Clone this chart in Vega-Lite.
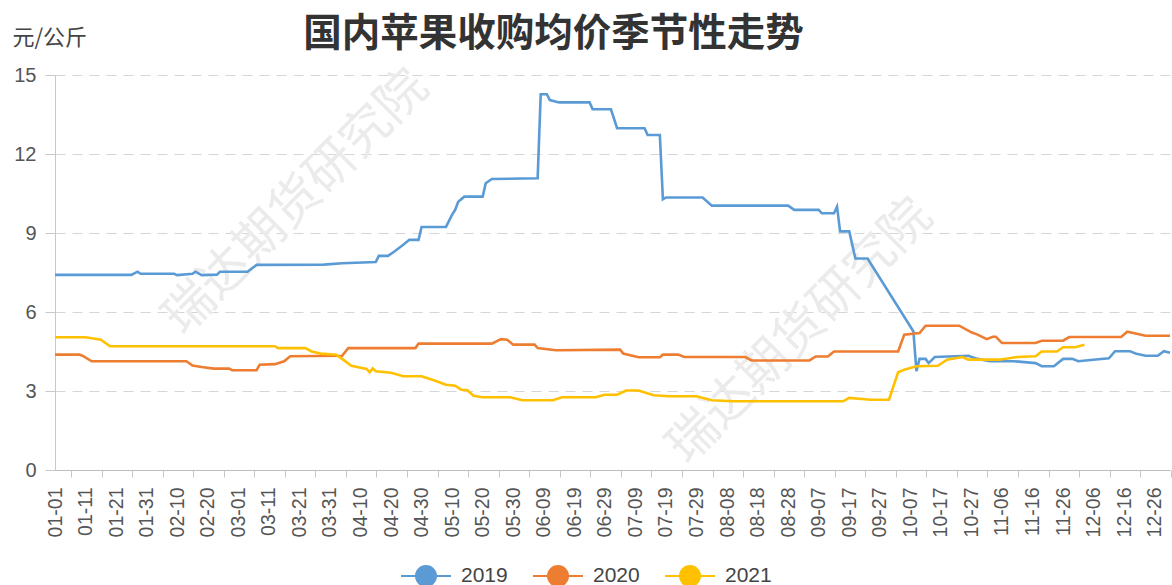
{
  "$schema": "https://vega.github.io/schema/vega-lite/v6.json",
  "width": 1115,
  "height": 395,
  "autosize": {"type": "none"},
  "padding": {"left": 55, "top": 75, "right": 2, "bottom": 115},
  "background": "white",
  "title": {
    "text": "国内苹果收购均价季节性走势",
    "font": "Noto Sans CJK SC",
    "fontSize": 38.5,
    "fontWeight": "bold",
    "color": "#333333",
    "anchor": "middle",
    "frame": "group",
    "dx": -59,
    "offset": -28
  },
  "config": {
    "view": {"stroke": null},
    "axis": {"labelFont": "Liberation Sans", "labelColor": "#555555", "domainColor": "#c8c8c8", "tickColor": "#c8c8c8", "labelOverlap": false, "labelSeparation": 0}
  },
  "layer": [
    {
      "data": {"values": [
        {"date": "2019-03-20", "price": 10.15, "text": "瑞达期货研究院"},
        {"date": "2019-09-01", "price": 5.25, "text": "瑞达期货研究院"}
      ]},
      "mark": {"type": "text", "angle": 315, "fontSize": 50, "font": "Noto Sans CJK SC", "color": "#ebebeb", "align": "center", "baseline": "middle"},
      "encoding": {
        "x": {"field": "date", "type": "temporal", "timeUnit": "utcmonthdate"},
        "y": {"field": "price", "type": "quantitative"},
        "text": {"field": "text"}
      }
    },
    {
      "data": {"values": [
        {"date": "2019-01-01", "year": "2019", "price": 7.41},
        {"date": "2019-01-26", "year": "2019", "price": 7.41},
        {"date": "2019-01-28", "year": "2019", "price": 7.53},
        {"date": "2019-01-29", "year": "2019", "price": 7.45},
        {"date": "2019-02-09", "year": "2019", "price": 7.45},
        {"date": "2019-02-10", "year": "2019", "price": 7.40},
        {"date": "2019-02-15", "year": "2019", "price": 7.45},
        {"date": "2019-02-16", "year": "2019", "price": 7.53},
        {"date": "2019-02-18", "year": "2019", "price": 7.40},
        {"date": "2019-02-23", "year": "2019", "price": 7.42},
        {"date": "2019-02-24", "year": "2019", "price": 7.53},
        {"date": "2019-03-04", "year": "2019", "price": 7.53},
        {"date": "2019-03-07", "year": "2019", "price": 7.79},
        {"date": "2019-03-29", "year": "2019", "price": 7.80},
        {"date": "2019-04-04", "year": "2019", "price": 7.85},
        {"date": "2019-04-15", "year": "2019", "price": 7.90},
        {"date": "2019-04-16", "year": "2019", "price": 8.13},
        {"date": "2019-04-19", "year": "2019", "price": 8.13},
        {"date": "2019-04-21", "year": "2019", "price": 8.29},
        {"date": "2019-04-24", "year": "2019", "price": 8.55},
        {"date": "2019-04-26", "year": "2019", "price": 8.74},
        {"date": "2019-04-29", "year": "2019", "price": 8.74},
        {"date": "2019-04-30", "year": "2019", "price": 9.23},
        {"date": "2019-05-08", "year": "2019", "price": 9.23},
        {"date": "2019-05-10", "year": "2019", "price": 9.70},
        {"date": "2019-05-11", "year": "2019", "price": 9.88},
        {"date": "2019-05-12", "year": "2019", "price": 10.19},
        {"date": "2019-05-14", "year": "2019", "price": 10.38},
        {"date": "2019-05-20", "year": "2019", "price": 10.38},
        {"date": "2019-05-21", "year": "2019", "price": 10.89},
        {"date": "2019-05-23", "year": "2019", "price": 11.05},
        {"date": "2019-06-07", "year": "2019", "price": 11.08},
        {"date": "2019-06-08", "year": "2019", "price": 14.27},
        {"date": "2019-06-10", "year": "2019", "price": 14.27},
        {"date": "2019-06-11", "year": "2019", "price": 14.05},
        {"date": "2019-06-14", "year": "2019", "price": 13.96},
        {"date": "2019-06-24", "year": "2019", "price": 13.96},
        {"date": "2019-06-25", "year": "2019", "price": 13.70},
        {"date": "2019-07-01", "year": "2019", "price": 13.70},
        {"date": "2019-07-03", "year": "2019", "price": 12.98},
        {"date": "2019-07-12", "year": "2019", "price": 12.98},
        {"date": "2019-07-13", "year": "2019", "price": 12.72},
        {"date": "2019-07-17", "year": "2019", "price": 12.72},
        {"date": "2019-07-18", "year": "2019", "price": 10.28},
        {"date": "2019-07-19", "year": "2019", "price": 10.35},
        {"date": "2019-07-31", "year": "2019", "price": 10.35},
        {"date": "2019-08-03", "year": "2019", "price": 10.04},
        {"date": "2019-08-28", "year": "2019", "price": 10.04},
        {"date": "2019-08-30", "year": "2019", "price": 9.88},
        {"date": "2019-09-07", "year": "2019", "price": 9.88},
        {"date": "2019-09-08", "year": "2019", "price": 9.75},
        {"date": "2019-09-12", "year": "2019", "price": 9.75},
        {"date": "2019-09-13", "year": "2019", "price": 10.0},
        {"date": "2019-09-14", "year": "2019", "price": 9.06},
        {"date": "2019-09-17", "year": "2019", "price": 9.06},
        {"date": "2019-09-19", "year": "2019", "price": 8.03},
        {"date": "2019-09-23", "year": "2019", "price": 8.03},
        {"date": "2019-10-07", "year": "2019", "price": 5.45},
        {"date": "2019-10-08", "year": "2019", "price": 5.26},
        {"date": "2019-10-09", "year": "2019", "price": 3.75},
        {"date": "2019-10-10", "year": "2019", "price": 4.22},
        {"date": "2019-10-12", "year": "2019", "price": 4.22},
        {"date": "2019-10-13", "year": "2019", "price": 4.06},
        {"date": "2019-10-15", "year": "2019", "price": 4.29},
        {"date": "2019-10-26", "year": "2019", "price": 4.34},
        {"date": "2019-10-29", "year": "2019", "price": 4.22},
        {"date": "2019-11-02", "year": "2019", "price": 4.13},
        {"date": "2019-11-10", "year": "2019", "price": 4.13},
        {"date": "2019-11-17", "year": "2019", "price": 4.06},
        {"date": "2019-11-19", "year": "2019", "price": 3.94},
        {"date": "2019-11-23", "year": "2019", "price": 3.94},
        {"date": "2019-11-26", "year": "2019", "price": 4.22},
        {"date": "2019-11-29", "year": "2019", "price": 4.22},
        {"date": "2019-12-01", "year": "2019", "price": 4.13},
        {"date": "2019-12-05", "year": "2019", "price": 4.18},
        {"date": "2019-12-11", "year": "2019", "price": 4.24},
        {"date": "2019-12-13", "year": "2019", "price": 4.51},
        {"date": "2019-12-18", "year": "2019", "price": 4.51},
        {"date": "2019-12-20", "year": "2019", "price": 4.41},
        {"date": "2019-12-23", "year": "2019", "price": 4.34},
        {"date": "2019-12-27", "year": "2019", "price": 4.34},
        {"date": "2019-12-29", "year": "2019", "price": 4.51},
        {"date": "2019-12-31", "year": "2019", "price": 4.45},

        {"date": "2020-01-01", "year": "2020", "price": 4.38},
        {"date": "2020-01-09", "year": "2020", "price": 4.38},
        {"date": "2020-01-10", "year": "2020", "price": 4.34},
        {"date": "2020-01-13", "year": "2020", "price": 4.13},
        {"date": "2020-02-13", "year": "2020", "price": 4.13},
        {"date": "2020-02-15", "year": "2020", "price": 3.97},
        {"date": "2020-02-18", "year": "2020", "price": 3.91},
        {"date": "2020-02-22", "year": "2020", "price": 3.85},
        {"date": "2020-02-27", "year": "2020", "price": 3.85},
        {"date": "2020-02-28", "year": "2020", "price": 3.79},
        {"date": "2020-03-07", "year": "2020", "price": 3.79},
        {"date": "2020-03-08", "year": "2020", "price": 4.00},
        {"date": "2020-03-13", "year": "2020", "price": 4.02},
        {"date": "2020-03-16", "year": "2020", "price": 4.13},
        {"date": "2020-03-18", "year": "2020", "price": 4.32},
        {"date": "2020-04-04", "year": "2020", "price": 4.34},
        {"date": "2020-04-06", "year": "2020", "price": 4.63},
        {"date": "2020-04-28", "year": "2020", "price": 4.63},
        {"date": "2020-04-29", "year": "2020", "price": 4.80},
        {"date": "2020-05-23", "year": "2020", "price": 4.80},
        {"date": "2020-05-26", "year": "2020", "price": 4.97},
        {"date": "2020-05-28", "year": "2020", "price": 4.95},
        {"date": "2020-05-30", "year": "2020", "price": 4.76},
        {"date": "2020-06-06", "year": "2020", "price": 4.76},
        {"date": "2020-06-07", "year": "2020", "price": 4.63},
        {"date": "2020-06-13", "year": "2020", "price": 4.55},
        {"date": "2020-07-04", "year": "2020", "price": 4.57},
        {"date": "2020-07-05", "year": "2020", "price": 4.42},
        {"date": "2020-07-10", "year": "2020", "price": 4.28},
        {"date": "2020-07-17", "year": "2020", "price": 4.28},
        {"date": "2020-07-18", "year": "2020", "price": 4.38},
        {"date": "2020-07-23", "year": "2020", "price": 4.38},
        {"date": "2020-07-25", "year": "2020", "price": 4.29},
        {"date": "2020-08-14", "year": "2020", "price": 4.29},
        {"date": "2020-08-16", "year": "2020", "price": 4.16},
        {"date": "2020-09-04", "year": "2020", "price": 4.16},
        {"date": "2020-09-06", "year": "2020", "price": 4.31},
        {"date": "2020-09-10", "year": "2020", "price": 4.31},
        {"date": "2020-09-12", "year": "2020", "price": 4.50},
        {"date": "2020-10-03", "year": "2020", "price": 4.50},
        {"date": "2020-10-05", "year": "2020", "price": 5.14},
        {"date": "2020-10-10", "year": "2020", "price": 5.20},
        {"date": "2020-10-12", "year": "2020", "price": 5.48},
        {"date": "2020-10-23", "year": "2020", "price": 5.48},
        {"date": "2020-10-27", "year": "2020", "price": 5.23},
        {"date": "2020-10-29", "year": "2020", "price": 5.14},
        {"date": "2020-11-01", "year": "2020", "price": 4.97},
        {"date": "2020-11-03", "year": "2020", "price": 5.06},
        {"date": "2020-11-04", "year": "2020", "price": 5.06},
        {"date": "2020-11-06", "year": "2020", "price": 4.82},
        {"date": "2020-11-17", "year": "2020", "price": 4.82},
        {"date": "2020-11-19", "year": "2020", "price": 4.91},
        {"date": "2020-11-26", "year": "2020", "price": 4.91},
        {"date": "2020-11-28", "year": "2020", "price": 5.05},
        {"date": "2020-12-15", "year": "2020", "price": 5.05},
        {"date": "2020-12-17", "year": "2020", "price": 5.25},
        {"date": "2020-12-19", "year": "2020", "price": 5.20},
        {"date": "2020-12-23", "year": "2020", "price": 5.10},
        {"date": "2020-12-31", "year": "2020", "price": 5.10},

        {"date": "2021-01-01", "year": "2021", "price": 5.04},
        {"date": "2021-01-11", "year": "2021", "price": 5.04},
        {"date": "2021-01-16", "year": "2021", "price": 4.95},
        {"date": "2021-01-19", "year": "2021", "price": 4.70},
        {"date": "2021-03-13", "year": "2021", "price": 4.70},
        {"date": "2021-03-14", "year": "2021", "price": 4.63},
        {"date": "2021-03-23", "year": "2021", "price": 4.63},
        {"date": "2021-03-25", "year": "2021", "price": 4.50},
        {"date": "2021-03-28", "year": "2021", "price": 4.42},
        {"date": "2021-04-02", "year": "2021", "price": 4.38},
        {"date": "2021-04-04", "year": "2021", "price": 4.22},
        {"date": "2021-04-07", "year": "2021", "price": 3.96},
        {"date": "2021-04-12", "year": "2021", "price": 3.84},
        {"date": "2021-04-13", "year": "2021", "price": 3.71},
        {"date": "2021-04-14", "year": "2021", "price": 3.86},
        {"date": "2021-04-15", "year": "2021", "price": 3.75},
        {"date": "2021-04-20", "year": "2021", "price": 3.69},
        {"date": "2021-04-24", "year": "2021", "price": 3.56},
        {"date": "2021-04-30", "year": "2021", "price": 3.56},
        {"date": "2021-05-04", "year": "2021", "price": 3.41},
        {"date": "2021-05-08", "year": "2021", "price": 3.24},
        {"date": "2021-05-11", "year": "2021", "price": 3.20},
        {"date": "2021-05-13", "year": "2021", "price": 3.05},
        {"date": "2021-05-15", "year": "2021", "price": 3.03},
        {"date": "2021-05-17", "year": "2021", "price": 2.82},
        {"date": "2021-05-20", "year": "2021", "price": 2.76},
        {"date": "2021-05-29", "year": "2021", "price": 2.76},
        {"date": "2021-06-02", "year": "2021", "price": 2.65},
        {"date": "2021-06-12", "year": "2021", "price": 2.65},
        {"date": "2021-06-15", "year": "2021", "price": 2.76},
        {"date": "2021-06-26", "year": "2021", "price": 2.76},
        {"date": "2021-06-29", "year": "2021", "price": 2.86},
        {"date": "2021-07-03", "year": "2021", "price": 2.86},
        {"date": "2021-07-06", "year": "2021", "price": 3.02},
        {"date": "2021-07-10", "year": "2021", "price": 3.02},
        {"date": "2021-07-15", "year": "2021", "price": 2.84},
        {"date": "2021-07-20", "year": "2021", "price": 2.80},
        {"date": "2021-07-29", "year": "2021", "price": 2.80},
        {"date": "2021-08-03", "year": "2021", "price": 2.65},
        {"date": "2021-08-10", "year": "2021", "price": 2.61},
        {"date": "2021-09-15", "year": "2021", "price": 2.61},
        {"date": "2021-09-17", "year": "2021", "price": 2.74},
        {"date": "2021-09-24", "year": "2021", "price": 2.67},
        {"date": "2021-09-30", "year": "2021", "price": 2.67},
        {"date": "2021-10-03", "year": "2021", "price": 3.71},
        {"date": "2021-10-05", "year": "2021", "price": 3.81},
        {"date": "2021-10-09", "year": "2021", "price": 3.94},
        {"date": "2021-10-16", "year": "2021", "price": 3.96},
        {"date": "2021-10-19", "year": "2021", "price": 4.19},
        {"date": "2021-10-24", "year": "2021", "price": 4.29},
        {"date": "2021-10-26", "year": "2021", "price": 4.19},
        {"date": "2021-11-05", "year": "2021", "price": 4.19},
        {"date": "2021-11-11", "year": "2021", "price": 4.29},
        {"date": "2021-11-17", "year": "2021", "price": 4.32},
        {"date": "2021-11-19", "year": "2021", "price": 4.50},
        {"date": "2021-11-24", "year": "2021", "price": 4.50},
        {"date": "2021-11-26", "year": "2021", "price": 4.66},
        {"date": "2021-11-30", "year": "2021", "price": 4.66},
        {"date": "2021-12-03", "year": "2021", "price": 4.76}
      ]},
      "mark": {"type": "line", "strokeWidth": 2.6, "interpolate": "linear"},
      "encoding": {
        "x": {
          "field": "date",
          "type": "temporal",
          "timeUnit": "utcmonthdate",
          "scale": {"type": "utc", "domain": [{"year": 2012, "month": 1, "date": 1, "utc": true}, {"year": 2012, "month": 12, "date": 31, "utc": true}], "nice": false},
          "axis": {
            "title": null,
            "tickCount": 60,
            "values": [
              {"year": 2012, "month": 1, "date": 1, "utc": true},
              {"year": 2012, "month": 1, "date": 11, "utc": true},
              {"year": 2012, "month": 1, "date": 21, "utc": true},
              {"year": 2012, "month": 1, "date": 31, "utc": true},
              {"year": 2012, "month": 2, "date": 10, "utc": true},
              {"year": 2012, "month": 2, "date": 20, "utc": true},
              {"year": 2012, "month": 3, "date": 1, "utc": true},
              {"year": 2012, "month": 3, "date": 11, "utc": true},
              {"year": 2012, "month": 3, "date": 21, "utc": true},
              {"year": 2012, "month": 3, "date": 31, "utc": true},
              {"year": 2012, "month": 4, "date": 10, "utc": true},
              {"year": 2012, "month": 4, "date": 20, "utc": true},
              {"year": 2012, "month": 4, "date": 30, "utc": true},
              {"year": 2012, "month": 5, "date": 10, "utc": true},
              {"year": 2012, "month": 5, "date": 20, "utc": true},
              {"year": 2012, "month": 5, "date": 30, "utc": true},
              {"year": 2012, "month": 6, "date": 9, "utc": true},
              {"year": 2012, "month": 6, "date": 19, "utc": true},
              {"year": 2012, "month": 6, "date": 29, "utc": true},
              {"year": 2012, "month": 7, "date": 9, "utc": true},
              {"year": 2012, "month": 7, "date": 19, "utc": true},
              {"year": 2012, "month": 7, "date": 29, "utc": true},
              {"year": 2012, "month": 8, "date": 8, "utc": true},
              {"year": 2012, "month": 8, "date": 18, "utc": true},
              {"year": 2012, "month": 8, "date": 28, "utc": true},
              {"year": 2012, "month": 9, "date": 7, "utc": true},
              {"year": 2012, "month": 9, "date": 17, "utc": true},
              {"year": 2012, "month": 9, "date": 27, "utc": true},
              {"year": 2012, "month": 10, "date": 7, "utc": true},
              {"year": 2012, "month": 10, "date": 17, "utc": true},
              {"year": 2012, "month": 10, "date": 27, "utc": true},
              {"year": 2012, "month": 11, "date": 6, "utc": true},
              {"year": 2012, "month": 11, "date": 16, "utc": true},
              {"year": 2012, "month": 11, "date": 26, "utc": true},
              {"year": 2012, "month": 12, "date": 6, "utc": true},
              {"year": 2012, "month": 12, "date": 16, "utc": true},
              {"year": 2012, "month": 12, "date": 26, "utc": true}
            ],
            "labelExpr": "utcFormat(datum.value, '%m-%d')",
            "labelAngle": 270,
            "labelFontSize": 19.5,
            "labelPadding": 10,
            "labelOverlap": false,
            "labelSeparation": 0,
            "labelFlush": false,
            "labelBound": false,
            "tickSize": 7,
            "tickOffset": 16,
            "labelOffset": -16,
            "grid": false,
            "domainColor": "#bdbdbd"
          }
        },
        "y": {
          "field": "price",
          "type": "quantitative",
          "scale": {"domain": [0, 15], "nice": false, "zero": true},
          "axis": {
            "values": [0, 3, 6, 9, 12, 15],
            "title": "元/公斤",
            "titleAngle": 0,
            "titleAlign": "left",
            "titleBaseline": "middle",
            "titleX": -43,
            "titleY": -38,
            "titleFont": "Noto Sans CJK SC",
            "titleFontSize": 22,
            "titleFontWeight": "normal",
            "titleColor": "#444444",
            "labelFontSize": 20,
            "labelPadding": 9,
            "tickSize": 10,
            "grid": true,
            "gridDash": [10, 7],
            "gridColor": "#d6d6d6",
            "gridWidth": 1.2
          }
        },
        "color": {
          "field": "year",
          "type": "nominal",
          "scale": {"domain": ["2019", "2020", "2021"], "range": ["#5B9BD5", "#ED7D31", "#FFC000"]},
          "legend": {
            "orient": "none",
            "legendX": 345,
            "legendY": 475,
            "direction": "horizontal",
            "title": null,
            "padding": 0,
            "symbolType": "M-1,0L-0.4,0M0.4,0L1,0M-0.4,0A0.4,0.4,0,1,1,0.4,0A0.4,0.4,0,1,1,-0.4,0Z",
            "symbolSize": 2500,
            "symbolStrokeWidth": 2,
            "labelFont": "Liberation Sans",
            "labelFontSize": 21,
            "labelColor": "#444444",
            "labelOffset": 9,
            "columnPadding": 21,
            "encode": {
              "symbols": {"update": {"fill": {"scale": "color", "field": "value"}, "stroke": {"scale": "color", "field": "value"}, "opacity": {"value": 1}}}
            }
          }
        }
      }
    }
  ]
}
